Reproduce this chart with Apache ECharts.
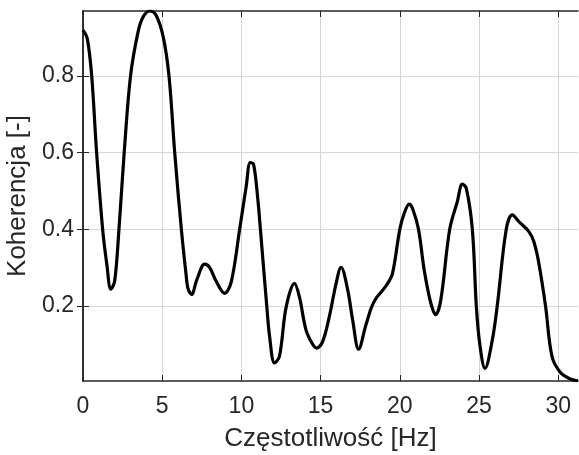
<!DOCTYPE html>
<html>
<head>
<meta charset="utf-8">
<title>Koherencja</title>
<script src="https://cdn.jsdelivr.net/npm/echarts@6/dist/echarts.min.js"></script>
<style>
  html, body { margin: 0; padding: 0; background: #fff; }
</style>
</head>
<body>
<div id="main" style="width: 579px; height: 455px;"></div>
<script type="text/javascript">
// frequency [Hz] and coherence values
var freq = [0, 0.27, 0.55, 0.86, 1.24, 1.5, 1.76, 2.0, 2.27, 2.6, 3.0, 3.48, 3.8, 4.22, 4.6,
  5.06, 5.43, 5.79, 6.21, 6.5, 6.63, 6.85, 7.2, 7.68, 8.0, 8.4, 8.94, 9.36, 9.89, 10.3,
  10.56, 10.77, 11.04, 11.2, 11.6, 11.78, 12.09, 12.4, 12.83, 13.35, 13.66, 14.08, 14.5, 14.75,
  15.13, 15.55, 15.98, 16.29, 16.71, 17.02, 17.4, 17.86, 18.2, 18.5, 18.8, 19.22, 19.54, 20.0,
  20.28, 20.59, 20.8, 21.18, 21.54, 21.96, 22.27, 22.59, 23.15, 23.63, 23.95, 24.2, 24.58, 24.83,
  25.05, 25.38, 25.84, 26.15, 26.72, 27.1, 27.52, 28.15, 28.46, 28.78, 29.2, 29.61, 30.14, 30.67, 31.25];
var coh = [0.920, 0.898, 0.800, 0.600, 0.400, 0.310, 0.244, 0.265, 0.400, 0.600, 0.800, 0.916, 0.955, 0.970, 0.960,
  0.903, 0.800, 0.600, 0.400, 0.285, 0.245, 0.230, 0.270, 0.309, 0.300, 0.265, 0.233, 0.263, 0.400, 0.511,
  0.574, 0.570, 0.477, 0.400, 0.200, 0.120, 0.051, 0.068, 0.198, 0.259, 0.224, 0.137, 0.100, 0.090,
  0.107, 0.172, 0.259, 0.301, 0.242, 0.164, 0.087, 0.150, 0.195, 0.220, 0.235, 0.258, 0.285, 0.400,
  0.442, 0.466, 0.455, 0.400, 0.294, 0.207, 0.177, 0.216, 0.400, 0.472, 0.518, 0.507, 0.400, 0.200,
  0.100, 0.037, 0.111, 0.200, 0.400, 0.4375, 0.420, 0.394, 0.368, 0.311, 0.200, 0.068, 0.026, 0.011, 0.004];
var xTicks = [0, 5, 10, 15, 20, 25, 30];
var yTicks = [0.2, 0.4, 0.6, 0.8];

var data = [];
for (var i = 0; i < freq.length; i++) {
  data.push([freq[i], coh[i]]);
}

var axisColor = '#262626';
var gridColor = '#d6d6d6';
var font = 'Liberation Sans, Arial, sans-serif';

var myChart = echarts.init(document.getElementById('main'));
var option = {
  animation: false,
  backgroundColor: '#fff',
  grid: { left: 83, right: 1, top: 11, bottom: 74, outerBoundsMode: 'none', containLabel: false },
  xAxis: [{
    type: 'value',
    min: 0,
    max: 31.25,
    name: 'Częstotliwość [Hz]',
    nameLocation: 'middle',
    nameGap: 45,
    nameTextStyle: { fontSize: 26, color: axisColor, fontFamily: font },
    axisLine: { show: true, lineStyle: { color: axisColor, width: 1.5 } },
    axisTick: { show: true, inside: true, length: 6, customValues: xTicks, lineStyle: { color: axisColor } },
    axisLabel: { customValues: xTicks, margin: 14, fontSize: 23, color: axisColor, fontFamily: font },
    splitLine: { show: true, lineStyle: { color: gridColor, width: 1 } }
  }, {
    type: 'value',
    position: 'top',
    min: 0,
    max: 31.25,
    axisLine: { show: true, lineStyle: { color: axisColor, width: 1.5 } },
    axisTick: { show: true, inside: true, length: 6, customValues: xTicks, lineStyle: { color: axisColor } },
    axisLabel: { show: false },
    splitLine: { show: false }
  }],
  yAxis: [{
    type: 'value',
    min: 0.004,
    max: 0.97,
    name: 'Koherencja [-]',
    nameLocation: 'middle',
    nameGap: 44,
    nameTextStyle: { fontSize: 26, color: axisColor, fontFamily: font },
    axisLine: { show: true, lineStyle: { color: axisColor, width: 1.5 } },
    axisTick: { show: true, inside: true, length: 6, customValues: yTicks, lineStyle: { color: axisColor } },
    axisLabel: { customValues: yTicks, margin: 9, fontSize: 23, color: axisColor, fontFamily: font },
    splitLine: { show: true, lineStyle: { color: gridColor, width: 1 } }
  }, {
    type: 'value',
    position: 'right',
    min: 0.004,
    max: 0.97,
    axisLine: { show: true, lineStyle: { color: axisColor, width: 1.5 } },
    axisTick: { show: true, inside: true, length: 6, customValues: yTicks, lineStyle: { color: axisColor } },
    axisLabel: { show: false },
    splitLine: { show: false }
  }],
  series: [{
    type: 'line',
    data: data,
    xAxisIndex: 0,
    yAxisIndex: 0,
    smooth: 0.35,
    symbol: 'none',
    lineStyle: { color: '#000', width: 3.2 }
  }]
};
myChart.setOption(option);
</script>
</body>
</html>
